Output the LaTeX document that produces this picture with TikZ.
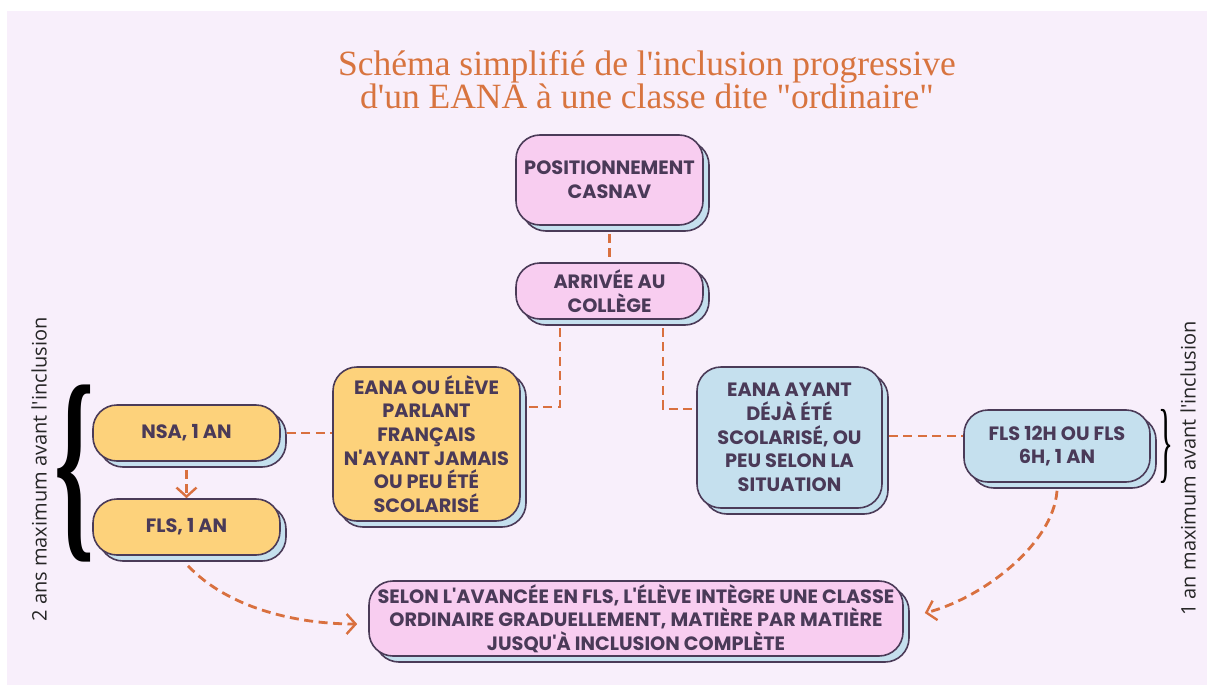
\documentclass[tikz,border=0pt]{standalone}
\usepackage{fontspec}
\setmainfont{Liberation Serif}[Ligatures=TeXOff]
\newfontfamily\boxfont{Poppins}[Ligatures=TeXOff]
\newfontfamily\sidefont{Open Sans}[Ligatures=TeXOff]
\usetikzlibrary{arrows.meta,shadows,calc}
\definecolor{bg}{HTML}{F8EFFB}
\definecolor{titleorange}{HTML}{D8743F}
\definecolor{ink}{HTML}{4A3A58}
\definecolor{outline}{HTML}{4B3B58}
\definecolor{pinkfill}{HTML}{F8CDF0}
\definecolor{yellowfill}{HTML}{FDD27B}
\definecolor{bluefill}{HTML}{C5E0EE}
\definecolor{connorange}{HTML}{D9703F}
\tikzset{
  box/.style={draw=outline, line width=1.6pt, rounded corners=24pt, inner sep=0pt,
    align=center, text=ink, font=\boxfont\bfseries\fontsize{19.3}{23.7}\selectfont,
    general shadow={fill=bluefill, draw=outline, line width=1.6pt, shadow xshift=6pt, shadow yshift=-6pt}},
  pinkbox/.style={box, fill=pinkfill},
  yellowbox/.style={box, fill=yellowfill},
  bluebox/.style={box, fill=bluefill},
  conn/.style={draw=connorange, line width=2.8pt, dash pattern=on 9pt off 5.5pt},
  chev/.style={-{Straight Barb[length=9pt,width=20pt,line width=2.4pt]}},
  titletext/.style={align=center, inner sep=0pt, text=titleorange, font=\fontsize{35.5}{31.5}\selectfont},
  sidetext/.style={rotate=90, font=\sidefont\fontsize{20}{24}\selectfont, text=black!85}
}
\begin{document}
\begin{tikzpicture}[x=1pt,y=-1pt]
\useasboundingbox (0,0) rectangle (1207,685);
\fill[bg] (7,11) rectangle (1207,685);

% title
\node[titletext] (title) at (647,79.5) {Schéma simplifié de l'inclusion progressive\\d'un EANA à une classe dite "ordinaire"};

% boxes
\node[pinkbox, minimum width=187pt, minimum height=90pt] (pos) at (609.5,180) {POSITIONNEMENT\\CASNAV};
\node[pinkbox, minimum width=187pt, minimum height=56pt] (arr) at (609.5,291) {ARRIVÉE AU\\COLLÈGE};
\node[yellowbox, minimum width=187pt, minimum height=154pt] (eana) at (426.5,444) {EANA OU ÉLÈVE\\PARLANT\\FRANÇAIS\\N'AYANT JAMAIS\\OU PEU ÉTÉ\\SCOLARISÉ};
\node[yellowbox, minimum width=187pt, minimum height=56pt] (nsa) at (186.5,433) {NSA, 1 AN};
\node[yellowbox, minimum width=187pt, minimum height=56pt] (fls) at (186.5,527) {FLS, 1 AN};
\node[bluebox, minimum width=185pt, minimum height=141pt] (ayant) at (789.5,437.5) {EANA AYANT\\DÉJÀ ÉTÉ\\SCOLARISÉ, OU\\PEU SELON LA\\SITUATION};
\node[bluebox, minimum width=186pt, minimum height=72pt] (fls12) at (1057,446) {FLS 12H OU FLS\\6H, 1 AN};
\node[pinkbox, minimum width=534pt, minimum height=75pt] (selon) at (636,618.5) {SELON L'AVANCÉE EN FLS, L'ÉLÈVE INTÈGRE UNE CLASSE\\ORDINAIRE GRADUELLEMENT, MATIÈRE PAR MATIÈRE\\JUSQU'À INCLUSION COMPLÈTE};

% braces and side texts
\node[inner sep=0pt] (lbrace) at (75,473.5) {\resizebox*{40pt}{177pt}{\bfseries\{}};
\node[inner sep=0pt] (rbrace) at (1165.5,446) {\resizebox*{15pt}{74pt}{\}}};
\node[sidetext] (ltext) at (39,469.5) {2 ans maximum avant l'inclusion};
\node[sidetext] (rtext) at (1188,468.5) {1 an maximum avant l'inclusion};

% connectors
\draw[conn] ($(pos.south)+(0,8)$) -- (arr.north);
\coordinate (a1) at ($(arr.south)+(-49.5,8)$);
\coordinate (e1) at ($(eana.east)+(6,-37)$);
\draw[conn] (a1) |- (e1);
\coordinate (a2) at ($(arr.south)+(53.5,8)$);
\coordinate (y1) at ($(ayant.west)+(0,-28.5)$);
\draw[conn] (a2) |- (y1);
\coordinate (n1) at ($(nsa.east)+(6,0)$);
\draw[conn] (n1) -- (n1 -| eana.west);
\draw[conn, chev] ($(nsa.south)+(0,8)$) -- (fls.north);
\coordinate (b1) at ($(ayant.east)+(6,-1.5)$);
\draw[conn] (b1) -- (b1 -| fls12.west);
\draw[conn, chev] ($(fls.south)+(1.5,10)$) .. controls +(40,42) and +(-62,0) .. ($(selon.west)+(-11,5.5)$);
\draw[conn, chev] ($(fls12.south)+(0,8)$) .. controls +(-4,55) and +(55,-14) .. ($(selon.east)+(21,-5.5)$);
\end{tikzpicture}
\end{document}
